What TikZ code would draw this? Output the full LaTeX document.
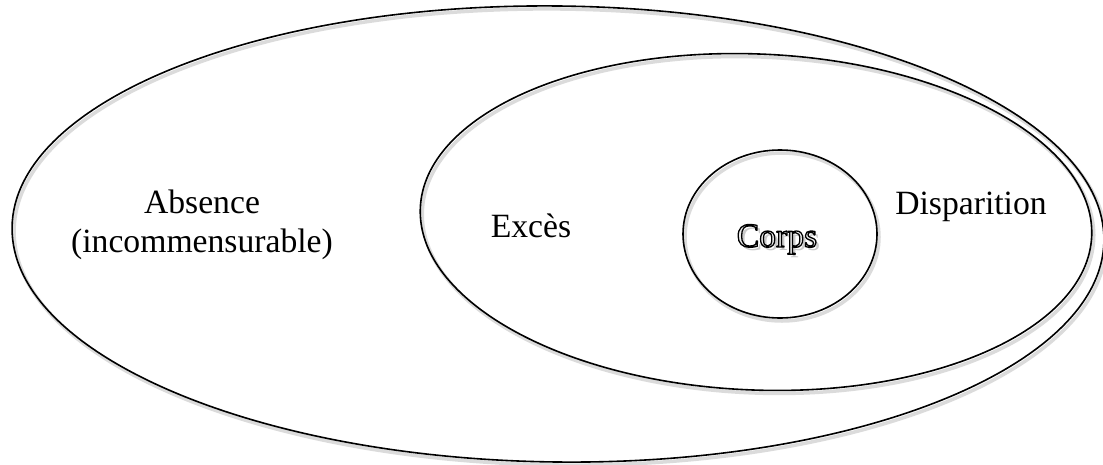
\documentclass[tikz,border=0pt]{standalone}
\usepackage{fontspec}
\setmainfont{Liberation Serif}[FakeStretch=0.99]
\usetikzlibrary{shapes.geometric}
% outlined lettering: fill with the current colour, stroke in black
\newcommand{\outlinedtext}[1]{\special{pdf:literal direct 0 G 1.3 w 1 j 2 Tr}#1\special{pdf:literal direct 0 Tr}}
\tikzset{
  ring/.style={ellipse, draw=black, line width=1.6pt, inner sep=0pt, outer sep=0pt},
  ringshadow/.style={ellipse, draw=black!14, line width=3.5pt, inner sep=0pt, outer sep=0pt},
  txt/.style={font=\fontsize{34}{41}\selectfont, inner sep=0pt, anchor=base},
}
\begin{document}
\begin{tikzpicture}[x=1pt,y=-1pt]
\useasboundingbox (0,0) rectangle (1103,464);
\clip (0,0) rectangle (1103,464);
% soft shadows under the outlines
\node[ringshadow, minimum width=1092pt, minimum height=456pt, rotate=-0.7] (outersh) at (560,237) {};
\node[ringshadow, minimum width=672pt, minimum height=336pt, rotate=-2.4] (midsh) at (758,225) {};
\node[ringshadow, minimum width=194pt, minimum height=168pt] (innersh) at (782,237) {};
% the three nested regions
\node[ring, minimum width=1092pt, minimum height=456pt, rotate=-0.7] (outer) at (558,234) {};
\node[ring, minimum width=672pt, minimum height=336pt, rotate=-2.4] (mid) at (756,222) {};
\node[ring, minimum width=194pt, minimum height=168pt] (inner) at (780,234) {};
% labels
\node[txt] (absence) at (202,213) {Absence};
\node[txt] (incomm) at (202,252) {(incommensurable)};
\node[txt] (exces) at (531,237) {Excès};
\node[txt] (disp) at (971,214) {Disparition};
\node[txt, text=black!35, opacity=0.6] (corpssh) at (780,250) {Corps};
\node[txt] (corps) at (777,247) {\textcolor{black!6}{\outlinedtext{Corps}}};
\end{tikzpicture}
\end{document}
